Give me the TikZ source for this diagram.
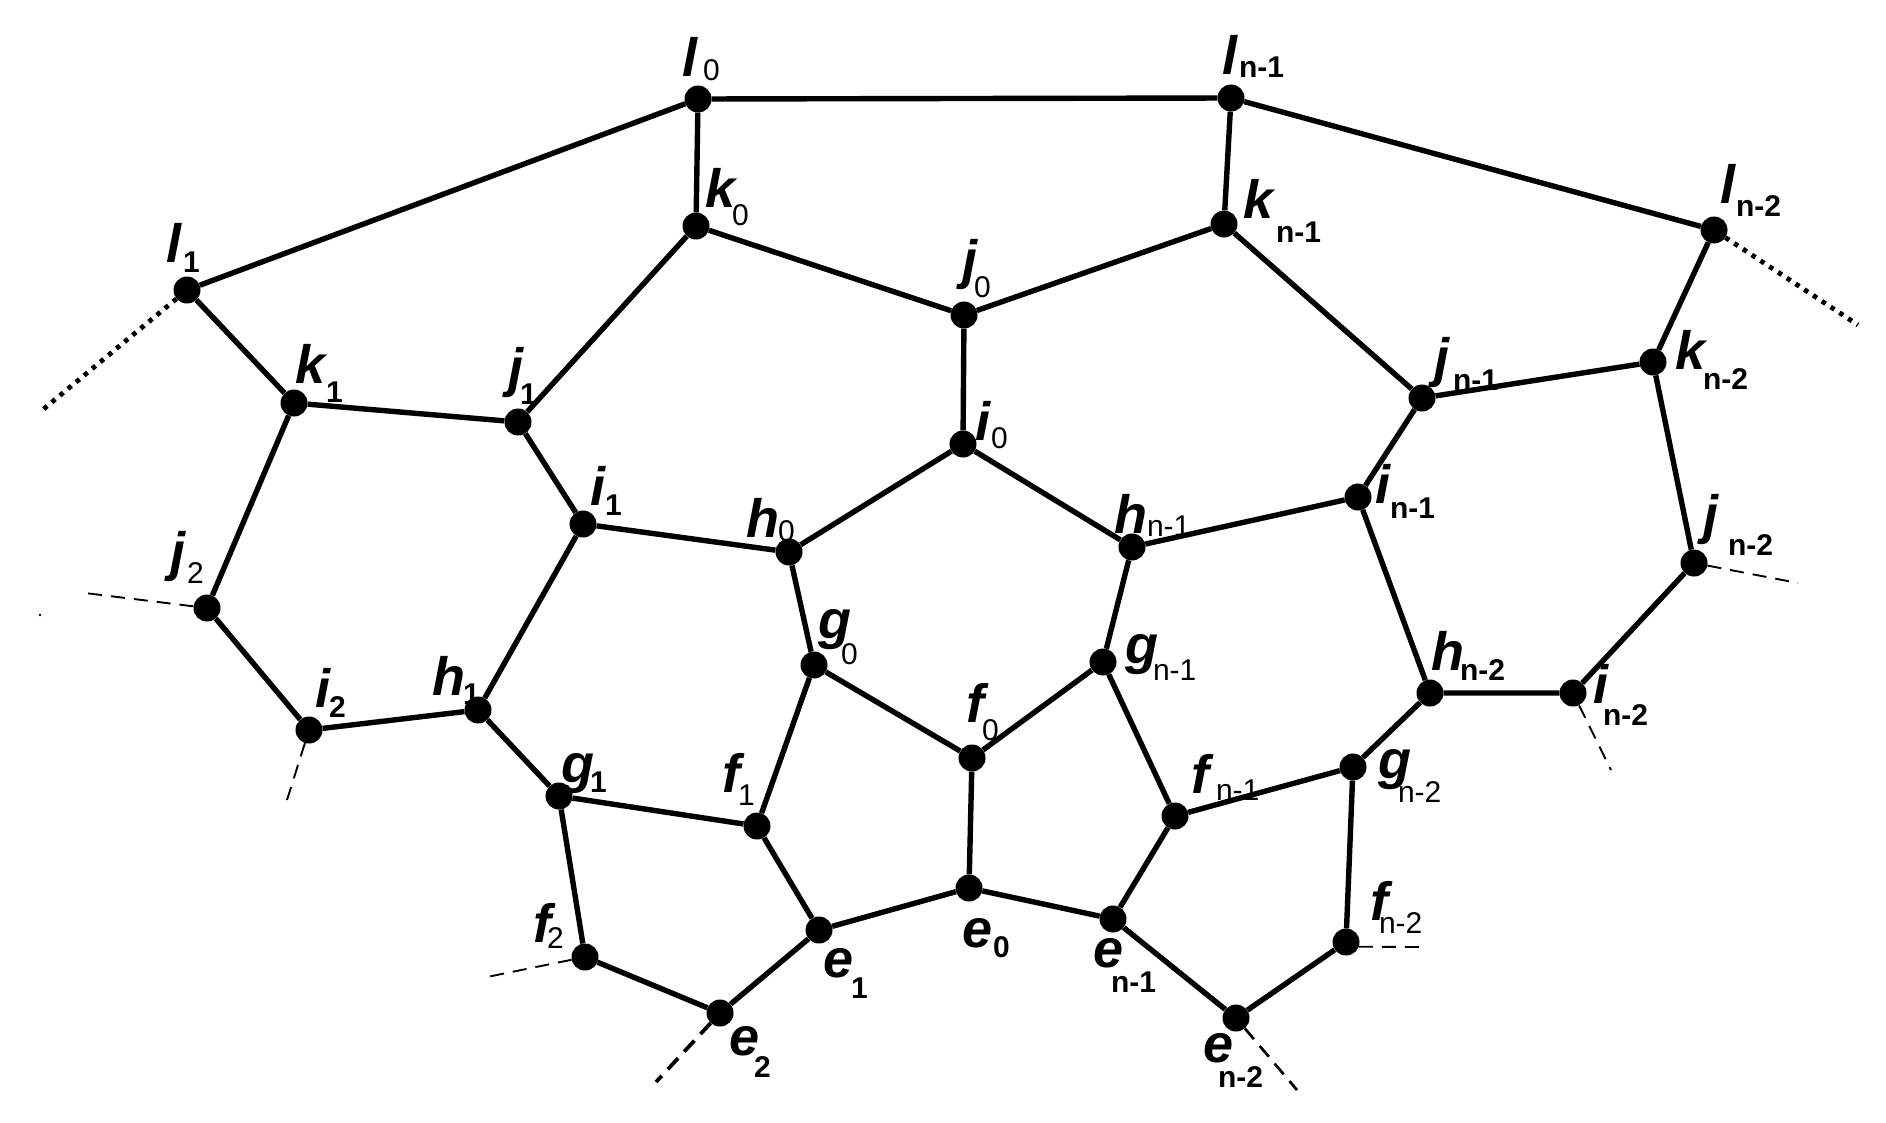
\documentclass[tikz,border=0pt]{standalone}
\usepackage{fontspec}
\setmainfont{Liberation Sans}
\newcommand\bigf{\fontsize{54}{54}\selectfont\bfseries\itshape}
\newcommand\subB{\fontsize{30}{30}\selectfont\bfseries\upshape}
\newcommand\subR{\fontsize{30}{30}\selectfont\mdseries\upshape}
\newcommand\Lbl[5]{\rlap{\bigf #1}\hspace*{#3pt}\raisebox{-#4pt}{#5#2}}
\begin{document}
\begin{tikzpicture}[x=1pt,y=-1pt,
  dot/.style={circle,fill=black,inner sep=0pt,minimum size=27pt},
  lab/.style={anchor=base west,inner sep=0pt,outer sep=0pt},
  edge/.style={line width=5.4pt},
  dotline/.style={line width=4.8pt,dash pattern=on 4.5pt off 6pt},
  thindash/.style={line width=1.9pt,dash pattern=on 14pt off 9pt},
  meddash/.style={line width=2.7pt,dash pattern=on 14pt off 9pt},
  thickdash/.style={line width=3.8pt,dash pattern=on 15pt off 9pt}]
\useasboundingbox (0,0) rectangle (1886,1122);
% nodes
\node[dot] (l0)  at (698,99) {};
\node[dot] (ln1) at (1231,98) {};
\node[dot] (l1)  at (187,290) {};
\node[dot] (ln2) at (1714,230) {};
\node[dot] (k0)  at (696,226) {};
\node[dot] (kn1) at (1224,224) {};
\node[dot] (j0)  at (964,315) {};
\node[dot] (k1)  at (294,403) {};
\node[dot] (j1)  at (518,422) {};
\node[dot] (jn1) at (1422,398) {};
\node[dot] (kn2) at (1653,362) {};
\node[dot] (i0)  at (963,444) {};
\node[dot] (i1)  at (583,524) {};
\node[dot] (h0)  at (789,552) {};
\node[dot] (hn1) at (1132,547) {};
\node[dot] (in1) at (1358,497) {};
\node[dot] (jn2) at (1694,563) {};
\node[dot] (j2)  at (207,608) {};
\node[dot] (g0)  at (814,665) {};
\node[dot] (gn1) at (1103,662) {};
\node[dot] (h1)  at (478,710) {};
\node[dot] (i2)  at (309,730) {};
\node[dot] (f0)  at (972,758) {};
\node[dot] (hn2) at (1430,693) {};
\node[dot] (in2) at (1573,693) {};
\node[dot] (g1)  at (559,796) {};
\node[dot] (f1)  at (757,826) {};
\node[dot] (fn1) at (1175,816) {};
\node[dot] (gn2) at (1353,767) {};
\node[dot] (e0)  at (969,888) {};
\node[dot] (e1)  at (819,930) {};
\node[dot] (en1) at (1113,919) {};
\node[dot] (f2)  at (585,957) {};
\node[dot] (fn2) at (1346,942) {};
\node[dot] (e2)  at (720,1013) {};
\node[dot] (en2) at (1236,1018) {};
% free ends
\coordinate (a1) at (40,412);
\coordinate (a2) at (1858,325);
\coordinate (b1) at (85,593);
\coordinate (b2) at (287,800);
\coordinate (b3) at (487,977);
\coordinate (b4) at (656,1082);
\coordinate (b5) at (1297,1090);
\coordinate (b6) at (1419,947);
\coordinate (b7) at (1611,770);
\coordinate (b8) at (1798,583);
\fill (40,615) circle (1.3pt);
% edges
\draw[edge] (l0)--(ln1) (l0)--(l1) (ln1)--(ln2) (l0)--(k0) (ln1)--(kn1)
  (l1)--(k1) (ln2)--(kn2)
  (k0)--(j0) (k0)--(j1) (kn1)--(j0) (kn1)--(jn1)
  (k1)--(j1) (k1)--(j2) (jn1)--(kn2) (kn2)--(jn2)
  (j0)--(i0) (j1)--(i1) (jn1)--(in1)
  (i0)--(h0) (i0)--(hn1) (i1)--(h0) (i1)--(h1) (hn1)--(in1) (in1)--(hn2)
  (j2)--(i2) (i2)--(h1) (jn2)--(in2) (in2)--(hn2)
  (h0)--(g0) (hn1)--(gn1) (h1)--(g1) (hn2)--(gn2)
  (g0)--(f0) (g0)--(f1) (gn1)--(f0) (gn1)--(fn1) (g1)--(f1) (g1)--(f2)
  (fn1)--(gn2) (gn2)--(fn2)
  (f0)--(e0) (f1)--(e1) (fn1)--(en1)
  (e0)--(e1) (e0)--(en1) (e1)--(e2) (f2)--(e2) (en1)--(en2) (en2)--(fn2);
\draw[dotline] (l1)--(a1);
\draw[dotline] (ln2)--(a2);
\draw[thindash] (j2)--(b1);
\draw[thindash] (i2)--(b2);
\draw[thindash] (f2)--(b3);
\draw[thickdash] (e2)--(b4);
\draw[meddash] (en2)--(b5);
\draw[thindash] (fn2.-20)--(b6);
\draw[thindash] (in2)--(b7);
\draw[thindash] (jn2)--(b8);
% labels
\node[lab] (Tl0)  at (682,76)   {\Lbl{l}{0}{21}{4}{\subR}};
\node[lab] (Tln1) at (1222,74)  {\Lbl{l}{n-1}{17}{3}{\subB}};
\node[lab] (Tl1)  at (166,262)  {\Lbl{l}{1}{17}{10}{\subB}};
\node[lab] (Tln2) at (1720,203) {\Lbl{l}{n-2}{16}{13}{\subB}};
\node[lab] (Tk0)  at (705,207)  {\Lbl{k}{0}{27}{18}{\subR}};
\node[lab] (Tkn1) at (1243,218) {\Lbl{k}{n-1}{33}{24}{\subB}};
\node[lab] (Tj0)  at (962,278)  {\Lbl{j}{0}{12}{19}{\subR}};
\node[lab] (Tk1)  at (295,383)  {\Lbl{k}{1}{31}{19}{\subB}};
\node[lab] (Tj1)  at (508,386)  {\Lbl{j}{1}{12}{18}{\subB}};
\node[lab] (Tjn1) at (1434,376) {\Lbl{j}{n-1}{19}{14}{\subB}};
\node[lab] (Tkn2) at (1675,369) {\Lbl{k}{n-2}{28}{20}{\subB}};
\node[lab] (Ti0)  at (975,440)  {\Lbl{i}{0}{16}{8}{\subR}};
\node[lab] (Ti1)  at (590,505)  {\Lbl{i}{1}{15}{10}{\subB}};
\node[lab] (Th0)  at (746,537)  {\Lbl{h}{0}{32}{4}{\subR}};
\node[lab] (Thn1) at (1114,533) {\Lbl{h}{n-1}{33}{3}{\subR}};
\node[lab] (Tin1) at (1375,503) {\Lbl{i}{n-1}{15}{15}{\subB}};
\node[lab] (Tjn2) at (1703,533) {\Lbl{j}{n-2}{25}{22}{\subB}};
\node[lab] (Tj2)  at (170,570)  {\Lbl{j}{2}{17}{13}{\subR}};
\node[lab] (Tg0)  at (818,638)  {\Lbl{g}{0}{23}{26}{\subR}};
\node[lab] (Tgn1) at (1125,663) {\Lbl{g}{n-1}{28}{17}{\subR}};
\node[lab] (Th1)  at (432,695)  {\Lbl{h}{1}{31}{9}{\subB}};
\node[lab] (Ti2)  at (315,707)  {\Lbl{i}{2}{14}{10}{\subB}};
\node[lab] (Tf0)  at (966,722)  {\Lbl{f}{0}{16}{18}{\subR}};
\node[lab] (Thn2) at (1431,670) {\Lbl{h}{n-2}{29}{10}{\subB}};
\node[lab] (Tin2) at (1593,703) {\Lbl{i}{n-2}{10}{22}{\subB}};
\node[lab] (Tg1)  at (561,782)  {\Lbl{g}{1}{29}{10}{\subB}};
\node[lab] (Tf1)  at (722,792)  {\Lbl{f}{1}{16}{13}{\subR}};
\node[lab] (Tfn1) at (1191,793) {\Lbl{f}{n-1}{25}{7}{\subR}};
\node[lab] (Tgn2) at (1378,778) {\Lbl{g}{n-2}{20}{24}{\subR}};
\node[lab] (Te0)  at (962,947)  {\Lbl{e}{0}{31}{10}{\subB}};
\node[lab] (Te1)  at (823,977)  {\Lbl{e}{1}{28}{21}{\subB}};
\node[lab] (Ten1) at (1093,967) {\Lbl{e}{n-1}{18}{25}{\subB}};
\node[lab] (Tf2)  at (533,942)  {\Lbl{f}{2}{14}{6}{\subR}};
\node[lab] (Tfn2) at (1370,920) {\Lbl{f}{n-2}{9}{13}{\subR}};
\node[lab] (Te2)  at (729,1055) {\Lbl{e}{2}{25}{22}{\subB}};
\node[lab] (Ten2) at (1203,1062){\Lbl{e}{n-2}{15}{25}{\subB}};
\end{tikzpicture}
\end{document}
